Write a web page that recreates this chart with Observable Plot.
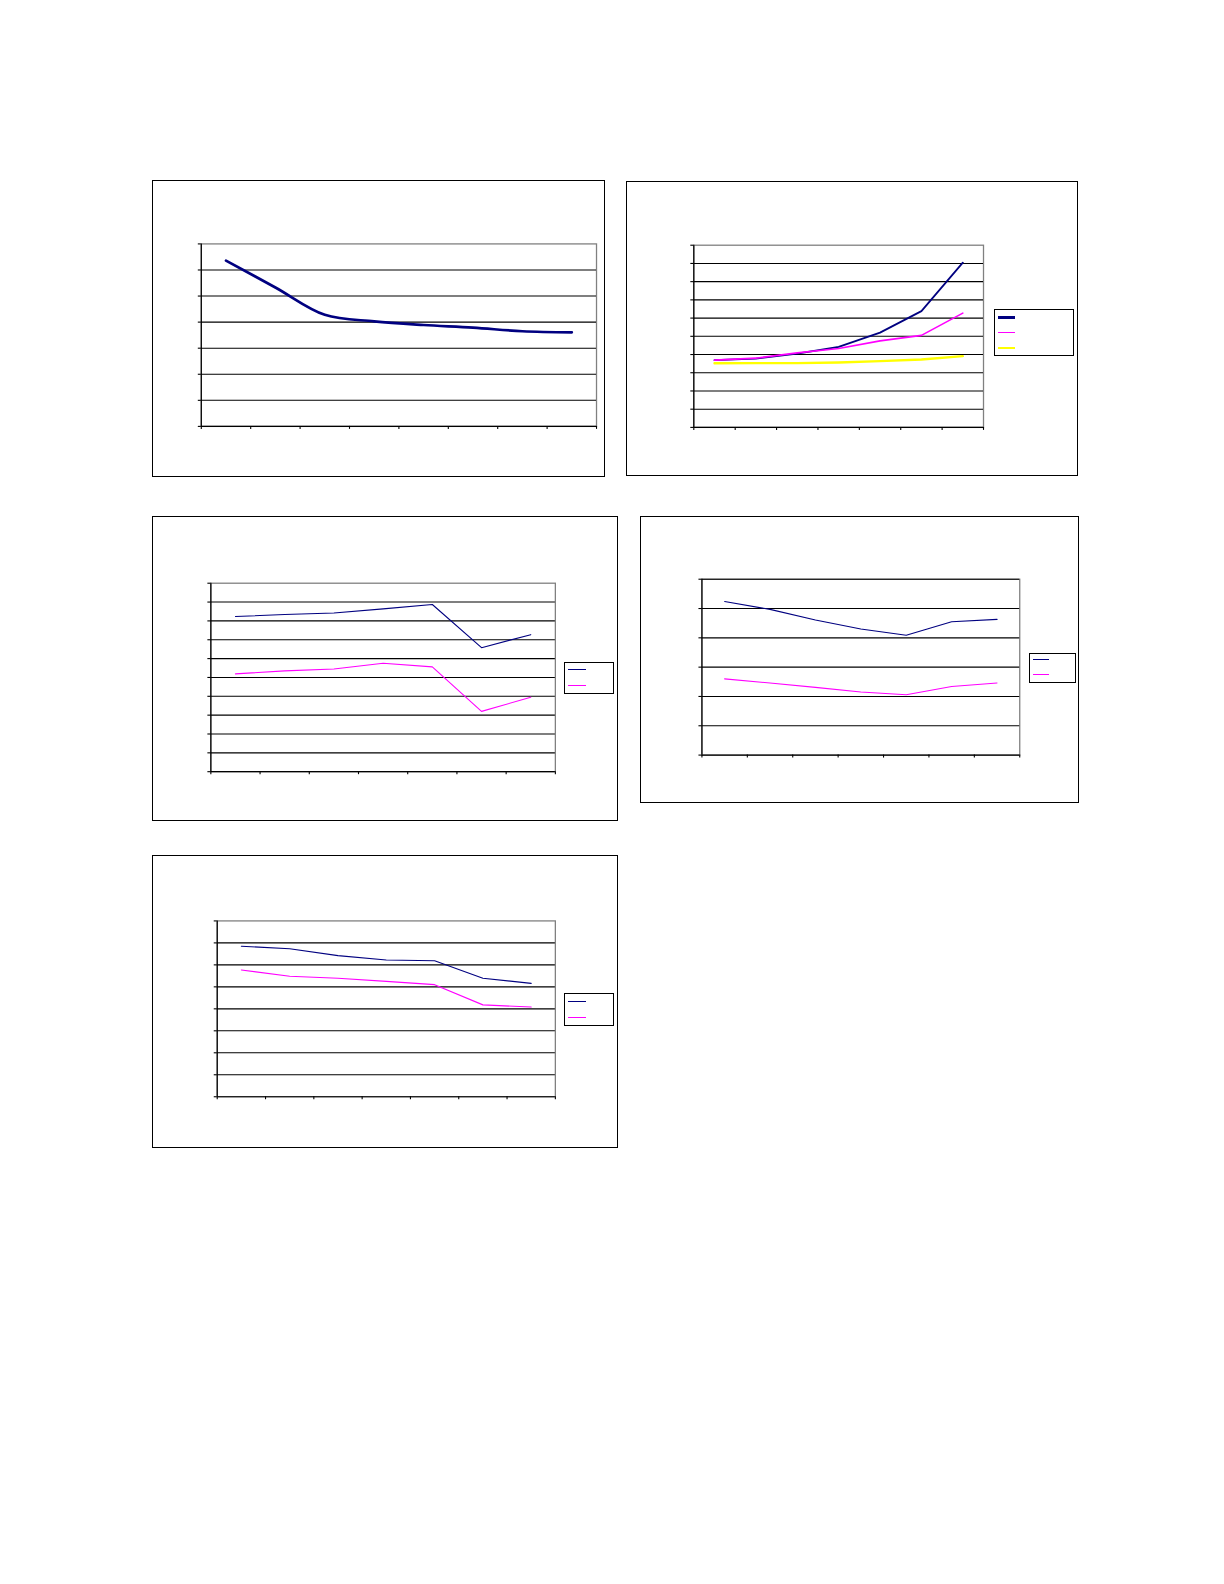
<!DOCTYPE html>
<html>
<head>
<meta charset="utf-8">
<script src="https://cdn.jsdelivr.net/npm/d3@7"></script>
<script src="https://cdn.jsdelivr.net/npm/@observablehq/plot@0.6"></script>
<style>
  html, body { margin: 0; padding: 0; background: #fff; }
  #page { position: relative; width: 1224px; height: 1584px; background: #fff; font-family: "Liberation Sans", Arial, sans-serif; }
  .box { position: absolute; box-sizing: border-box; border: 1.2px solid #000; background: #fff; }
  .box svg { position: absolute; left: -1.2px; top: -1.2px; overflow: visible; background: transparent; }
  .legend { position: absolute; box-sizing: border-box; border: 1.2px solid #000; background: #fff; }
  .sw { position: absolute; }
</style>
</head>
<body>
<div id="page"></div>
<script>
// ---------- data ----------
// Chart 1 (8 categories, one smoothed series)
const c1Categories = ["1", "2", "3", "4", "5", "6", "7", "8"];
const c1Series1 = [6.36, 5.33, 4.28, 4.03, 3.89, 3.79, 3.65, 3.61];
const c1YTicks = [0, 1, 2, 3, 4, 5, 6, 7];

// Chart 2 (7 categories, three series)
const c2Categories = ["1", "2", "3", "4", "5", "6", "7"];
const c2Series1 = [3.69, 3.78, 4.05, 4.42, 5.20, 6.38, 9.04];
const c2Series2 = [3.69, 3.80, 4.09, 4.33, 4.75, 5.05, 6.27];
const c2Series3 = [3.52, 3.53, 3.53, 3.56, 3.64, 3.73, 3.91];
const c2YTicks = [0, 1, 2, 3, 4, 5, 6, 7, 8, 9, 10];

// Chart 3 (7 categories, two series)
const c3Categories = ["1", "2", "3", "4", "5", "6", "7"];
const c3Series1 = [8.23, 8.34, 8.42, 8.64, 8.87, 6.58, 7.27];
const c3Series2 = [5.19, 5.35, 5.45, 5.75, 5.56, 3.20, 3.95];
const c3YTicks = [0, 1, 2, 3, 4, 5, 6, 7, 8, 9, 10];

// Chart 4 (7 categories, two series)
const c4Categories = ["1", "2", "3", "4", "5", "6", "7"];
const c4Series1 = [5.24, 4.97, 4.61, 4.30, 4.09, 4.55, 4.63];
const c4Series2 = [2.60, 2.46, 2.31, 2.15, 2.06, 2.34, 2.46];
const c4YTicks = [0, 1, 2, 3, 4, 5, 6];

// Chart 5 (7 categories, two series)
const c5Categories = ["1", "2", "3", "4", "5", "6", "7"];
const c5Series1 = [6.85, 6.73, 6.42, 6.22, 6.19, 5.39, 5.16];
const c5Series2 = [5.77, 5.48, 5.39, 5.25, 5.10, 4.18, 4.08];
const c5YTicks = [0, 1, 2, 3, 4, 5, 6, 7, 8];

const NAVY = "#000080", MAGENTA = "#FF00FF", YELLOW = "#FFFF00";

// ---------- drawing ----------
const page = document.getElementById("page");

function drawChart(opt) {
  const {box, plot, categories, yTicks, series, curve, topGrid, legend} = opt;
  const n = categories.length;
  const yMax = yTicks[yTicks.length - 1];
  const W = box.r - box.l, H = box.b - box.t;
  const div = document.createElement("div");
  div.className = "box";
  Object.assign(div.style, {left: box.l + "px", top: box.t + "px", width: W + "px", height: H + "px"});
  page.appendChild(div);

  const gridVals = yTicks.filter(v => v > 0 && (topGrid || v < yMax));
  const marks = [
    Plot.frame({stroke: "#808080", strokeWidth: 1.3}),
    Plot.gridY(gridVals, {stroke: "#000", strokeOpacity: 1, strokeWidth: 1.1}),
    Plot.ruleX([0], {stroke: "#000", strokeWidth: 1.2}),
    Plot.ruleY([0], {stroke: "#000", strokeWidth: 1.2}),
    Plot.axisY({ticks: yTicks, tickSize: 3, tickFormat: () => "", label: null, strokeWidth: 1.1}),
    Plot.axisX({ticks: d3.range(0, n + 1), tickSize: 3, tickFormat: () => "", label: null, anchor: "bottom", strokeWidth: 1.1})
  ];
  for (const s of series) {
    marks.push(Plot.lineY(s.values, {
      x: (d, i) => i + 0.5,
      y: d => d,
      stroke: s.color,
      strokeWidth: s.width,
      curve: curve || "linear"
    }));
  }
  const svg = Plot.plot({
    width: W, height: H,
    marginLeft: plot.l - box.l, marginRight: box.r - plot.r,
    marginTop: plot.t - box.t, marginBottom: box.b - plot.b,
    x: {domain: [0, n], axis: null},
    y: {domain: [0, yMax], axis: null},
    style: {background: "transparent", overflow: "visible"},
    marks
  });
  div.appendChild(svg);

  if (legend) {
    const lg = document.createElement("div");
    lg.className = "legend";
    Object.assign(lg.style, {
      left: (legend.l - box.l - 1.2) + "px", top: (legend.t - box.t - 1.2) + "px",
      width: (legend.r - legend.l) + "px", height: (legend.b - legend.t) + "px"
    });
    div.appendChild(lg);
    series.forEach((s, i) => {
      const sw = document.createElement("div");
      sw.className = "sw";
      sw.title = s.name;
      const h = s.swatchWidth;
      Object.assign(sw.style, {
        left: (legend.swL - legend.l - 1.2) + "px",
        top: (legend.swY[i] - legend.t - 1.2 - h / 2) + "px",
        width: (legend.swR - legend.swL) + "px",
        height: h + "px",
        background: s.color
      });
      lg.appendChild(sw);
    });
  }
}

drawChart({
  box: {l: 151.7, t: 180.3, r: 605.3, b: 477.3},
  plot: {l: 200.7, t: 244, r: 597.7, b: 427.3},
  categories: c1Categories, yTicks: c1YTicks, curve: "catmull-rom",
  series: [{name: "Series 1", values: c1Series1, color: NAVY, width: 2.7}]
});

drawChart({
  box: {l: 625.7, t: 180.7, r: 1078.3, b: 476.3},
  plot: {l: 693.3, t: 244.7, r: 984.3, b: 427.7},
  categories: c2Categories, yTicks: c2YTicks,
  series: [
    {name: "Series 1", values: c2Series1, color: NAVY, width: 1.8, swatchWidth: 2.4},
    {name: "Series 2", values: c2Series2, color: MAGENTA, width: 1.6, swatchWidth: 1.2},
    {name: "Series 3", values: c2Series3, color: YELLOW, width: 2.4, swatchWidth: 2.4}
  ],
  legend: {l: 994.3, t: 309.7, r: 1074.7, b: 356.3, swL: 998, swR: 1015.7, swY: [318, 333.3, 348.7]}
});

drawChart({
  box: {l: 151.7, t: 516, r: 617.7, b: 821.3},
  plot: {l: 210.3, t: 583, r: 556.3, b: 772.3},
  categories: c3Categories, yTicks: c3YTicks,
  series: [
    {name: "Series 1", values: c3Series1, color: NAVY, width: 1.1, swatchWidth: 1.1},
    {name: "Series 2", values: c3Series2, color: MAGENTA, width: 1.1, swatchWidth: 1.3}
  ],
  legend: {l: 564.3, t: 661.7, r: 614.7, b: 694, swL: 568.3, swR: 586.7, swY: [670.3, 686]}
});

drawChart({
  box: {l: 640.3, t: 516, r: 1079, b: 803.3},
  plot: {l: 702, t: 579, r: 1021.3, b: 755.7},
  categories: c4Categories, yTicks: c4YTicks, topGrid: true,
  series: [
    {name: "Series 1", values: c4Series1, color: NAVY, width: 1.1, swatchWidth: 1.1},
    {name: "Series 2", values: c4Series2, color: MAGENTA, width: 1.1, swatchWidth: 1.3}
  ],
  legend: {l: 1029.7, t: 652.7, r: 1076.3, b: 683, swL: 1033, swR: 1049.7, swY: [660.3, 674.7]}
});

drawChart({
  box: {l: 151.7, t: 855, r: 617.7, b: 1148.3},
  plot: {l: 216.7, t: 920.7, r: 556.3, b: 1097.3},
  categories: c5Categories, yTicks: c5YTicks,
  series: [
    {name: "Series 1", values: c5Series1, color: NAVY, width: 1.1, swatchWidth: 1.1},
    {name: "Series 2", values: c5Series2, color: MAGENTA, width: 1.1, swatchWidth: 1.3}
  ],
  legend: {l: 564.3, t: 993.3, r: 614.3, b: 1026.7, swL: 568.3, swR: 586.7, swY: [1002, 1018]}
});
</script>
</body>
</html>
